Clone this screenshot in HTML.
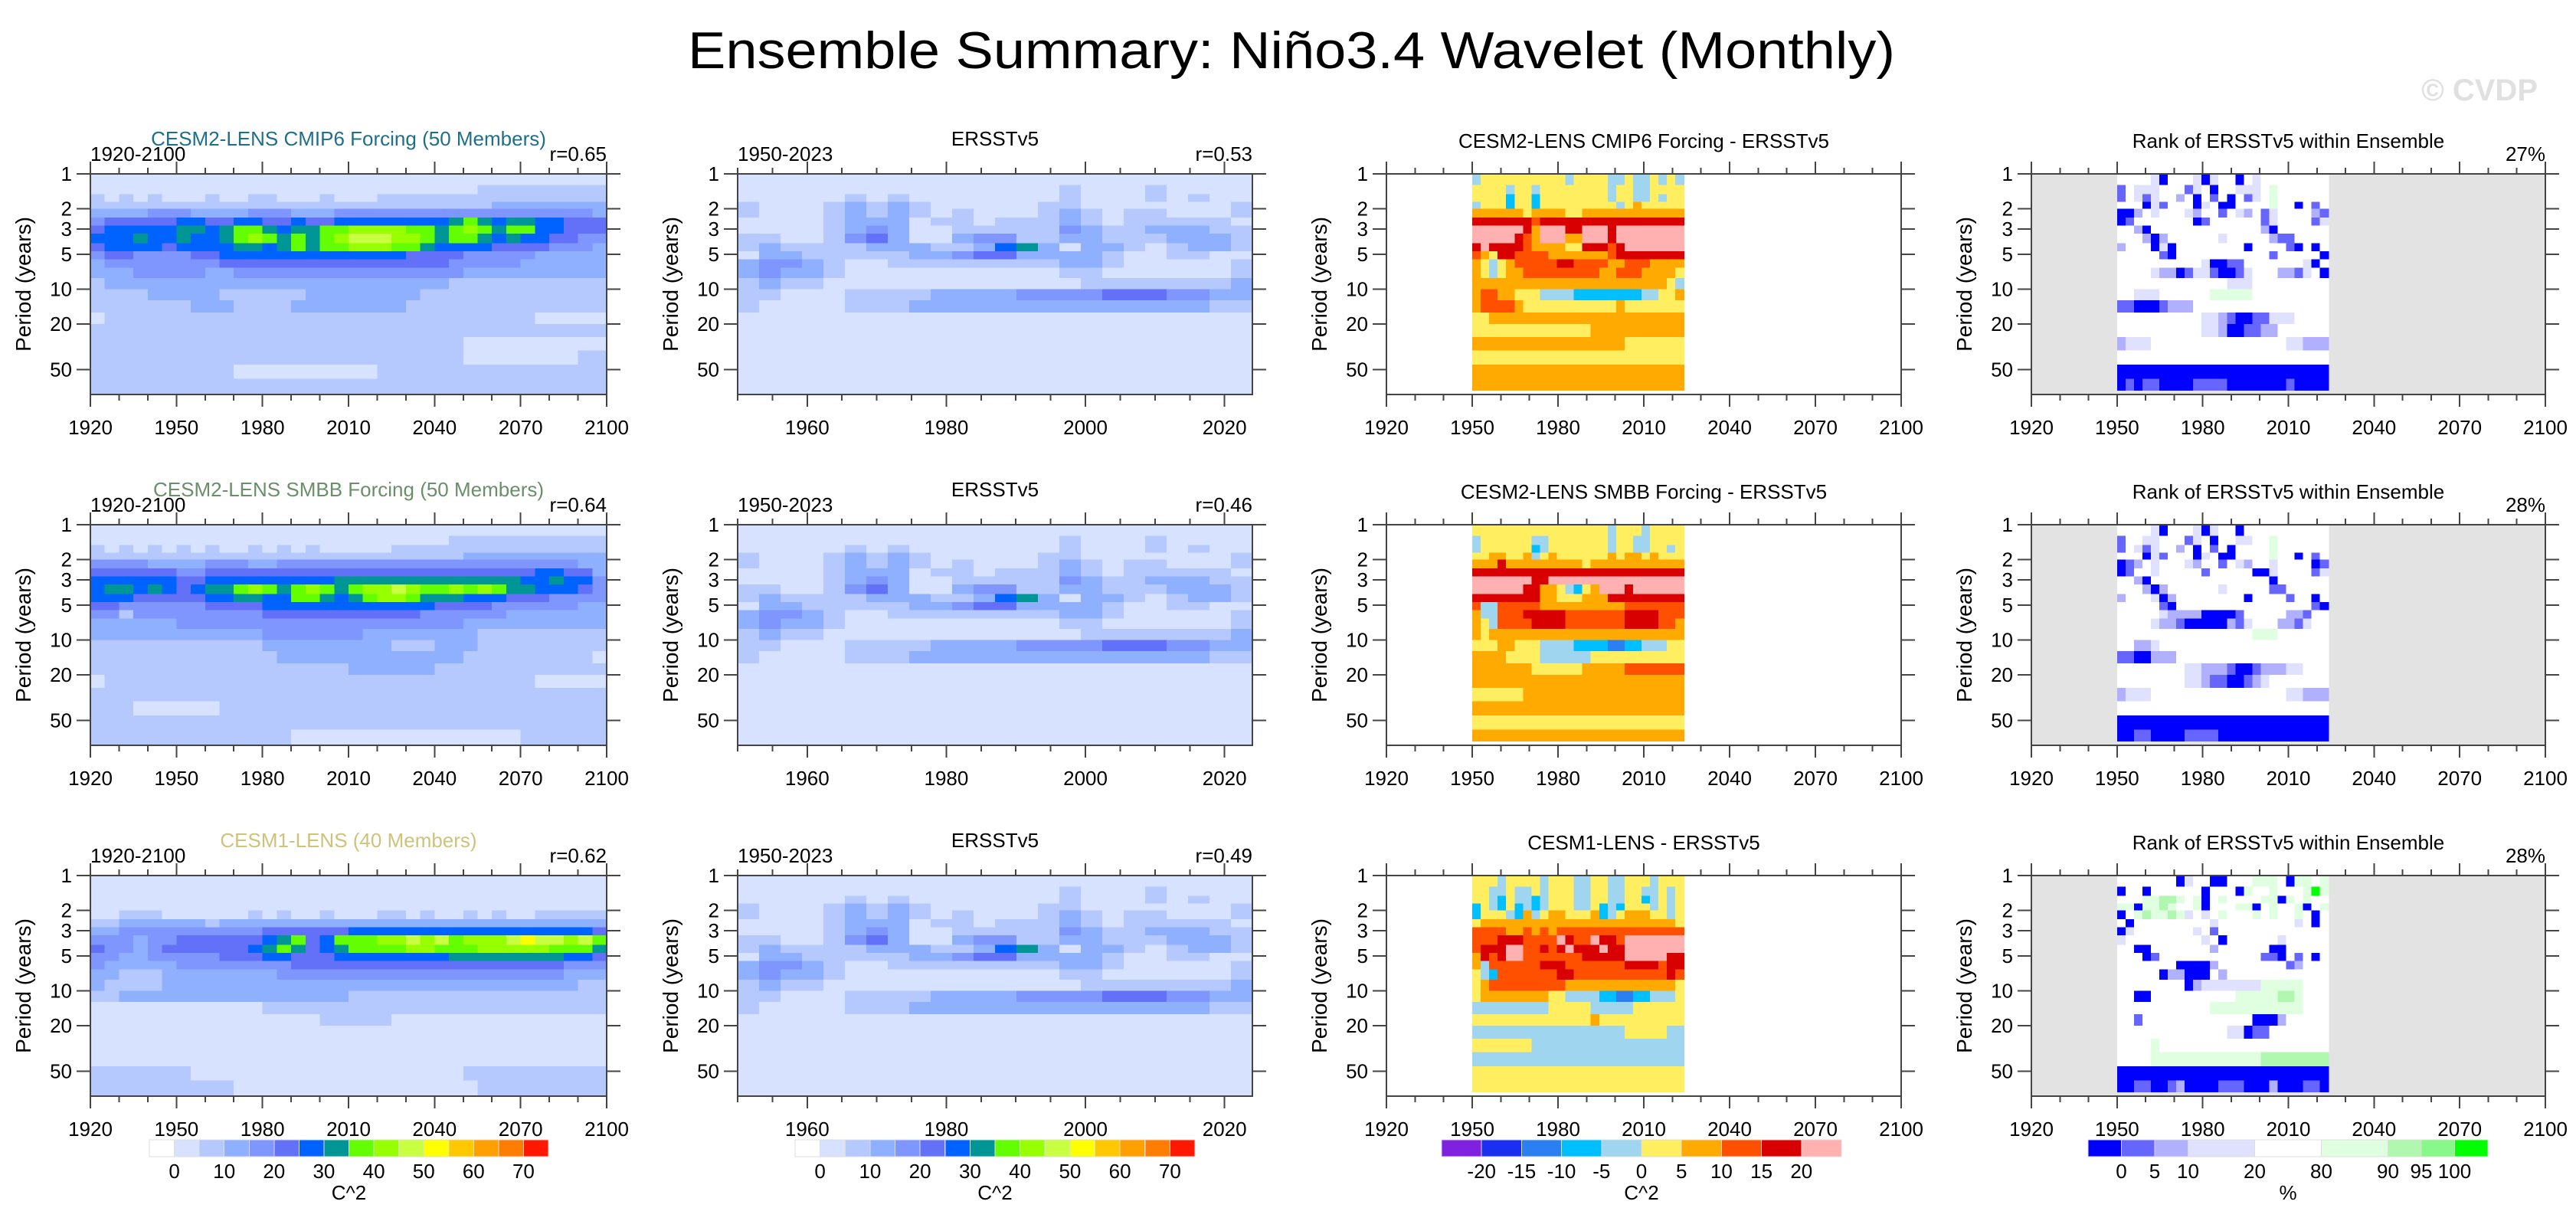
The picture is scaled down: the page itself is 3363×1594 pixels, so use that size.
<!DOCTYPE html>
<html><head><meta charset="utf-8"><title>Ensemble Summary: Niño3.4 Wavelet (Monthly)</title>
<style>
html,body{margin:0;padding:0;background:#fff;}
svg{display:block;font-family:"Liberation Sans",Arial,sans-serif;}
</style></head>
<body>
<svg id="chart" width="3363" height="1594" viewBox="0 0 3363 1594" xmlns="http://www.w3.org/2000/svg" shape-rendering="crispEdges">
<text x="1686" y="89" text-anchor="middle" font-size="68" textLength="1576" lengthAdjust="spacingAndGlyphs" fill="#000" shape-rendering="auto">Ensemble Summary: Niño3.4 Wavelet (Monthly)</text>
<text x="3313" y="131" text-anchor="end" font-size="40" font-weight="bold" fill="#e0e0e0">© CVDP</text>
</svg>
<script>
// ---------- DATA ----------
const periodEdges = [1,1.25,1.5,1.75,2,2.4,2.8,3.3,4,4.7,5.5,6.5,8,10,12.5,16,20,26,34,45,60,82];
const periodTicks = [1,2,3,5,10,20,50];
const longYearTicks = [1920,1950,1980,2010,2040,2070,2100];
const obsYearTicks = [1960,1980,2000,2020];

const powerLevelLabels = ["0","10","20","30","40","50","60","70"];
const diffLevelLabels = ["-20","-15","-10","-5","0","5","10","15","20"];
const rankLevelLabels = ["0","5","10","20","80","90","95","100"];

const col1Titles = ["CESM2-LENS CMIP6 Forcing (50 Members)","CESM2-LENS SMBB Forcing (50 Members)","CESM1-LENS (40 Members)"];
const col1Colors = ["#1f6f8b","#6a8f6a","#cfc27a"];
const col1R = ["r=0.65","r=0.64","r=0.62"];
const col2R = ["r=0.53","r=0.46","r=0.49"];
const col3Titles = ["CESM2-LENS CMIP6 Forcing - ERSSTv5","CESM2-LENS SMBB Forcing - ERSSTv5","CESM1-LENS - ERSSTv5"];
const col4Pct = ["27%","28%","28%"];

// power levels (hex digit per cell), rows = period bands, cols = time
const cmip6Power = [
"111111111111111111111111111111111111",
"111111111111111111111111111222222222",
"212121112112211121112222222222222222",
"222222222222222222222222222233333333",
"333344433334443334444444444444444443",
"455555665566556556666666678767766555",
"566666776788767788999988789878866555",
"666766766789878789aaa998788767665544",
"566665666677678788999887666655554443",
"455444455666666666666655554444433333",
"344444444555555555555555544444333333",
"333444443344444444444444443333333333",
"233333333333333333333333322222222222",
"222233333222222333333332222222222222",
"222222233322223333333322222222222222",
"122222222222222222222222222222211111",
"222222222222222222222222222222222222",
"222222222222222222222222221111111111",
"222222222222222222222222221111111122",
"222222222211111111112222222222222222",
"222222222222222222222222222222222222"];
const smbbPower = [
"111111111111111111111111111111111111",
"111111111111111111111111122222222222",
"212121212112121211111222222222222222",
"222222222222222222222222223333333333",
"444433334443344444444444444444444433",
"555555445555555555555555555555566553",
"666666556666666667777777777777667664",
"677676567789878987899a98898987766654",
"666555556677668876789987776665554444",
"554444445555666666666666555544444433",
"442444444444555555555554444443333333",
"333333444444444444444444443333333333",
"333333333333444444433333333222222222",
"222222222222333333333222333222222222",
"222222222222233333333333332222222221",
"222222222222222222333333222222222222",
"122222222222222222222222222222211111",
"222222222222222222222222222222222222",
"222111111222222222222222222222222222",
"222222222222222222222222222222222222",
"222222222222221111111111111111222222"];
const cesm1Power = [
"111111111111111111111111111111111111",
"111111111111111111111111111111111111",
"111111111111111111111111111111111111",
"111111111111111111111111111111111111",
"112221111112121121112212112121122222",
"223333332333333333333333333333333333",
"334444444444555555666666666666666665",
"444344555555678568889 9a9a8999abaa9a8".replace(/ /g,""),
"544345555556787567888899888999998887",
"443344444555665556666666677777777665",
"433333444444445555555555555555555444",
"332223333333344444444444444444444333",
"322223333333333333333333333333333322",
"223333333333333333222222222222222222",
"111111111111222222222222222222222222",
"111111111111111122222111111111111111",
"111111111111111111111111111111111111",
"111111111111111111111111111111111111",
"111111111111111111111111111111111111",
"222222211111111111111111112222222222",
"222222222211111111111111111222222222"];
const obsPower = [
"111111111111111111111111",
"111111111111111211121111",
"111112121111111211121211",
"211123232111112211111112",
"211123232121112321221112",
"111123331221222321222221",
"111123431122222432233322",
"221124531134422332223332",
"232222333223673133212332",
"133222223345533332112211",
"344321122222222332111112",
"343321111111111221111112",
"232211111111111122222223",
"221112222333344445554433",
"211112223333333333333322",
"111111111111111111111111",
"111111111111111111111111",
"111111111111111111111111",
"111111111111111111111111",
"111111111111111111111111",
"111111111111111111111111"];
// difference levels 0..9
const cmip6Diff = [
"4555555555545555445445454",
"5555455455555555455445555",
"5555355355555555455445455",
"4555355355555555545655555",
"6666665666655666666666666",
"8888888788888888888888888",
"9999998699988999899999999",
"9999987699966999899999999",
"8988887666655888789999999",
"7658877776666666788888888",
"6545677777887777667776666",
"6545667777777776677766665",
"6666666666666666666666654",
"6776655544443333333344556",
"6777765555555555565555555",
"5566666666666666666666666",
"5555555555555566666666666",
"6666666666666666665555555",
"5555555555555555555555555",
"6666666666666666666666666",
"6666666666666666666666666"];
const smbbDiff = [
"5555555555555555455545555",
"4555555445555555455445555",
"4555555345555555455445545",
"5566556456555555656656555",
"6668666666666566666666666",
"8888888888888888888888888",
"9999999889999999999999999",
"9999998866543569998999999",
"8888888866555666888888888",
"7447777766666666667777777",
"6447778888877777778888777",
"6547777888877777778888776",
"6566666666666666666666666",
"5556655544443333223344455",
"6666555544444455555555555",
"6666666555555666667777777",
"6666666666666666666666666",
"5555556666666666666666666",
"6666666666666666666666666",
"5555555555555555555555555",
"6666666666666666666666666"];
const cesm1Diff = [
"5554555545554455445554555",
"5544544545554455445544545",
"5543544345554455445534545",
"3543534345554453435554545",
"3555436456655563456665545",
"5666666666666666666666665",
"7777667676777777777777777",
"7778887777987798879999999",
"7888997787898889889999999",
"6878997777777888889999988",
"6477777788877777778888788",
"5437777777887777777777787",
"5677777777766666666666665",
"5666666665544443322334445",
"4444444445555544444555555",
"5555555555555565555555555",
"4444444444444444445555544",
"5555555444444444444444444",
"4444444444444444444444444",
"5555555555555555555555555",
"5555555555555555555555555"];
// rank levels 0..8 (4 = white, 20-80%)
const cmip6Rank = [
"4444304443034404344444444",
"1433344413404433345444444",
"1431344240414041345444444",
"4440314440340044445440414",
"0024344432441432413444421",
"0144444440144444413444413",
"4420444444444444420444444",
"4442024444443444442114444",
"2444030444444440444410404",
"4444410444444444441444440",
"4444444444300114444444304",
"4444322013310013444221340",
"4444444444444333444444444",
"4433344444455555444444444",
"1100012224444444444444444",
"4444444444332100113334444",
"4444444444332001122444444",
"2333444444444444444433222",
"4444444444444444444444444",
"0000000000000000000000000",
"0101100001111000000010000"];
const smbbRank = [
"4444304443034404444444444",
"1443344413404433445444444",
"1431344240414044445444444",
"4440314440340044445440414",
"0124344432441432443444401",
"0144344444144444003444413",
"4420444444444444440444444",
"4442024444443444441144444",
"2444302444444440444414404",
"4444410444444444444444410",
"4444432222000014444422144",
"4444322100000213444221344",
"4444444444444444555444444",
"4422344444444444444444444",
"1100222444444444444444444",
"4444444433222100122233444",
"4444444433211001234444444",
"2333444444444444444433222",
"4444444444444444444444444",
"0000000000000000000000000",
"0011000011110000000000000"];
const cesm1Rank = [
"4444444034400444555405545",
"0440444444044405445444585",
"4445566545045444455054544",
"5505565445044455045445045",
"0456556534345444545445404",
"4044444444434444444443404",
"0344444443414444444444444",
"3444444444340444444344444",
"4400444444424444440044444",
"4440144444444444411041404",
"4444444000024444444412444",
"4444402200042444444444444",
"4444444402333333355555444",
"4400444444444455555665444",
"4444444444455555555555444",
"4414444444444444000244444",
"4444444444444330114444444",
"4444544444444444444444444",
"4444555555555555566666666",
"0000000000000000000000000",
"0011001200001110002000110"];

// ---------- STYLE / LAYOUT ----------
const powerColors = ['#ffffff','#d6e2ff','#b5c9ff','#8fb0ff','#7f96ff','#6370f8','#0062ff','#009695','#63ff00','#96ff00','#c8ff41','#ffff00','#ffc800','#ffa000','#ff7d00','#ff1900'];
const diffColors = ['#8020e0','#1a2ff0','#2a80f0','#00bfff','#a0d5f0','#ffee60','#ffaa00','#ff5000','#d80000','#ffb0b0'];
const rankColors = ['#0000ff','#6666ff','#b0b0ff','#e0e0ff','#ffffff','#e0ffe0','#b0f8b0','#88f888','#00ff00'];
const rankWidths = [1,1,1,2,2,2,1,1,1];

const NS = 'http://www.w3.org/2000/svg';
const svg = document.getElementById('chart');
function mk(tag, attrs, parent){
  const e = document.createElementNS(NS, tag);
  for (const k in attrs) e.setAttribute(k, attrs[k]);
  (parent || svg).appendChild(e);
  return e;
}
function label(el, name){
  
  
}

const rowTops = [227, 685, 1143];
const plotH = 288;
const cols = [
  {x0:118, x1:792, yMin:1920, yMax:2100},
  {x0:963, x1:1635, yMin:1950, yMax:2024},
  {x0:1810, x1:2482, yMin:1920, yMax:2100},
  {x0:2652, x1:3323, yMin:1920, yMax:2100}
];
const PMAX = 82;

function drawPanel(ci, ri, grid, palette, opts){
  const c = cols[ci];
  const y0 = rowTops[ri], y1 = y0 + plotH;
  const g = mk('g', {});
  label(g, 'panel-c' + (ci+1) + '-r' + (ri+1));
  const xs = yr => c.x0 + (yr - c.yMin) / (c.yMax - c.yMin) * (c.x1 - c.x0);
  const ys = p => y0 + Math.log10(p) / Math.log10(PMAX) * plotH;
  // background
  const bg = mk('rect', {x:c.x0, y:y0, width:c.x1-c.x0, height:plotH, fill:opts.bg}, g);
  label(bg, 'plot-background');
  // cells
  const cg = mk('g', {}, g);
  label(cg, 'heatmap-cells');
  const nRows = grid.length;
  const nCols = Math.max(...grid.map(s => s.length));
  const ds = opts.dataStart, de = opts.dataEnd;
  for (let r = 0; r < nRows; r++){
    let s = grid[r];
    const pTop = periodEdges[r], pBot = Math.min(periodEdges[r+1], opts.pMax);
    if (pTop >= opts.pMax) continue;
    const yt = ys(pTop), yb = ys(pBot);
    for (let k = 0; k < nCols; k++){
      const ch = k < s.length ? s[k] : s[s.length-1];
      const lv = parseInt(ch, 16);
      const xa = xs(ds + (de - ds) * k / nCols), xb = xs(ds + (de - ds) * (k+1) / nCols);
      const cell = mk('rect', {x:xa.toFixed(1), y:yt.toFixed(1), width:(xb-xa+0.6).toFixed(1), height:(yb-yt+0.6).toFixed(1), fill:palette[lv]}, cg);
      label(cell, 'heatmap-cell');
    }
  }
  // frame
  const fr = mk('rect', {x:c.x0, y:y0, width:c.x1-c.x0, height:plotH, fill:'none', stroke:'#444', 'stroke-width':2}, g);
  label(fr, 'plot-frame');
  // x ticks
  const majors = opts.majors, minorStep = opts.minorStep;
  for (let yr = opts.minorStart; yr <= c.yMax + 0.01; yr += minorStep){
    const isMaj = majors.includes(yr);
    const x = xs(yr);
    const L = isMaj ? 16 : 8;
    const t1 = mk('line', {x1:x, x2:x, y1:y0, y2:y0-L, stroke:'#444', 'stroke-width':2}, g);
    label(t1, 'x-tick-top');
    const t2 = mk('line', {x1:x, x2:x, y1:y1, y2:y1+L, stroke:'#444', 'stroke-width':2}, g);
    label(t2, 'x-tick-bottom');
  }
  majors.forEach(yr => {
    const t = mk('text', {x:xs(yr), y:y1+52, 'text-anchor':'middle', 'font-size':26, fill:'#000'}, g);
    t.textContent = yr;
    label(t, 'x-tick-label');
  });
  // y ticks
  periodTicks.forEach(p => {
    const y = ys(p);
    const a = mk('line', {x1:c.x0-18, x2:c.x0, y1:y, y2:y, stroke:'#444', 'stroke-width':2}, g);
    label(a, 'y-tick-left');
    const b = mk('line', {x1:c.x1, x2:c.x1+18, y1:y, y2:y, stroke:'#444', 'stroke-width':2}, g);
    label(b, 'y-tick-right');
    const t = mk('text', {x:c.x0-24, y:y+9, 'text-anchor':'end', 'font-size':26, fill:'#000'}, g);
    t.textContent = p;
    label(t, 'y-tick-label');
  });
  const yl = mk('text', {x:0, y:0, 'text-anchor':'middle', 'font-size':28, fill:'#000', transform:'translate(' + (c.x0-78) + ',' + (y0+plotH/2) + ') rotate(-90)'}, g);
  yl.textContent = 'Period (years)';
  label(yl, 'y-axis-title');
  // titles
  const cx = (c.x0 + c.x1) / 2;
  if (opts.title){
    const t = mk('text', {x:cx, y:opts.titleY, 'text-anchor':'middle', 'font-size':26, fill:opts.titleColor}, g);
    t.textContent = opts.title;
    label(t, 'panel-title');
  }
  if (opts.left){
    const t = mk('text', {x:c.x0, y:y0-17, 'text-anchor':'start', 'font-size':26, fill:'#000'}, g);
    t.textContent = opts.left;
    label(t, 'panel-period-label');
  }
  if (opts.right){
    const t = mk('text', {x:c.x1, y:y0-17, 'text-anchor':'end', 'font-size':26, fill:'#000'}, g);
    t.textContent = opts.right;
    label(t, 'panel-stat-label');
  }
}

const powerGrids = [cmip6Power, smbbPower, cesm1Power];
const diffGrids = [cmip6Diff, smbbDiff, cesm1Diff];
const rankGrids = [cmip6Rank, smbbRank, cesm1Rank];
for (let r = 0; r < 3; r++){
  drawPanel(0, r, powerGrids[r], powerColors, {bg:'#d6e2ff', dataStart:1920, dataEnd:2100, pMax:82,
    majors:longYearTicks, minorStep:10, minorStart:1920, title:col1Titles[r], titleColor:col1Colors[r],
    titleY:rowTops[r]-37, left:'1920-2100', right:col1R[r]});
  drawPanel(1, r, obsPower, powerColors, {bg:'#d6e2ff', dataStart:1950, dataEnd:2024, pMax:82,
    majors:obsYearTicks, minorStep:5, minorStart:1950, title:'ERSSTv5', titleColor:'#000',
    titleY:rowTops[r]-37, left:'1950-2023', right:col2R[r]});
  drawPanel(2, r, diffGrids[r], diffColors, {bg:'#ffffff', dataStart:1950, dataEnd:2024, pMax:75,
    majors:longYearTicks, minorStep:10, minorStart:1920, title:col3Titles[r], titleColor:'#000',
    titleY:rowTops[r]-34});
  drawPanel(3, r, rankGrids[r], rankColors, {bg:'#e3e3e3', dataStart:1950, dataEnd:2024, pMax:75,
    majors:longYearTicks, minorStep:10, minorStart:1920, title:'Rank of ERSSTv5 within Ensemble', titleColor:'#000',
    titleY:rowTops[r]-34, right:col4Pct[r]});
}

// ---------- COLORBARS ----------
function colorbar(name, x0, x1, colors, widths, labels, unit){
  const g = mk('g', {});
  label(g, name);
  const total = widths.reduce((a,b)=>a+b,0);
  const unitW = (x1 - x0) / total;
  let x = x0;
  const bounds = [];
  colors.forEach((col, i) => {
    const w = widths[i] * unitW;
    const r = mk('rect', {x:x.toFixed(1), y:1488, width:w.toFixed(1), height:22, fill:col, stroke:'#ddd', 'stroke-width':1}, g);
    label(r, 'colorbar-box');
    x += w;
    bounds.push(x);
  });
  labels.forEach((lb, i) => {
    const bx = bounds[i * (labels.length === 8 && colors.length === 16 ? 2 : 1) + (colors.length === 16 ? 0 : 0)];
    const t = mk('text', {x:bx.toFixed(1), y:1538, 'text-anchor':'middle', 'font-size':26, fill:'#000'}, g);
    t.textContent = lb;
    label(t, 'colorbar-label');
  });
  const u = mk('text', {x:(x0+x1)/2, y:1566, 'text-anchor':'middle', 'font-size':26, fill:'#000'}, g);
  u.textContent = unit;
  label(u, 'colorbar-unit');
}
const ones16 = powerColors.map(()=>1);
colorbar('colorbar-power-c1', 195, 716, powerColors, ones16, powerLevelLabels, 'C^2');
colorbar('colorbar-power-c2', 1038, 1560, powerColors, ones16, powerLevelLabels, 'C^2');
colorbar('colorbar-diff', 1882, 2404, diffColors, diffColors.map(()=>1), diffLevelLabels, 'C^2');
colorbar('colorbar-rank', 2726, 3248, rankColors, rankWidths, rankLevelLabels, '%');
</script>
</body></html>
